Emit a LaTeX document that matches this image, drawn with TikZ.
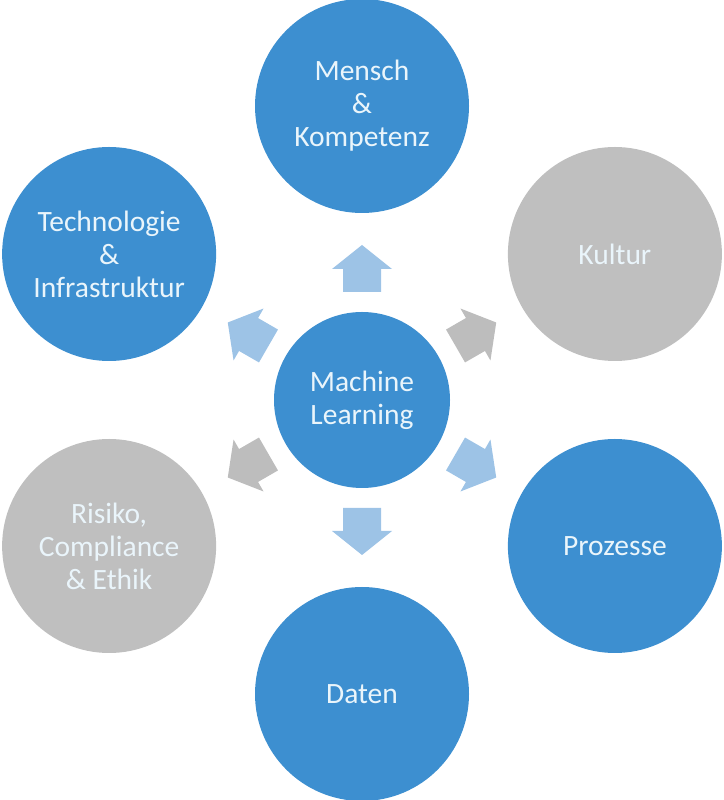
\documentclass[tikz,border=0pt]{standalone}
\usepackage{fontspec}
\setmainfont{Carlito}
\usetikzlibrary{calc}
\definecolor{cblue}{HTML}{3D8FD0}
\definecolor{cgray}{HTML}{BFBFBF}
\definecolor{ablue}{HTML}{9DC3E6}
\definecolor{agray}{HTML}{BDBDBD}
\definecolor{ctext}{HTML}{EAF5FB}
\begin{document}
\begin{tikzpicture}[x=1pt,y=1pt,
  circ/.style={circle,minimum size=214pt,inner sep=0pt,align=center,text=ctext,
    font=\fontsize{29.5}{33}\selectfont},
  bluec/.style={circ,fill=cblue},
  grayc/.style={circ,fill=cgray}]
\useasboundingbox (0,0) rectangle (723,800);
\node[bluec,minimum size=176pt] (ml) at (362,400) {Machine\\Learning};
\node[bluec] (mk) at ($(ml)+(90:294)$) {Mensch\\\&\\Kompetenz};
\node[bluec] (ti) at ($(ml)+(150:292)$) {Technologie\\\&\\Infrastruktur};
\node[grayc] (ku) at ($(ml)+(30:292)$) {Kultur};
\node[grayc] (re) at ($(ml)+(210:292)$) {Risiko,\\Compliance\\\& Ethik};
\node[bluec] (pr) at ($(ml)+(330:292)$) {Prozesse};
\node[bluec] (da) at ($(ml)+(270:294)$) {Daten};
\foreach \ang/\col in {90/ablue,150/ablue,30/agray,210/agray,330/ablue,270/ablue}{
  \fill[\col,shift={(ml)},rotate=\ang]
    (108,-19) -- (131,-19) -- (131,-30) -- (155,0) -- (131,30) -- (131,19) -- (108,19) -- cycle;
}
\end{tikzpicture}
\end{document}
